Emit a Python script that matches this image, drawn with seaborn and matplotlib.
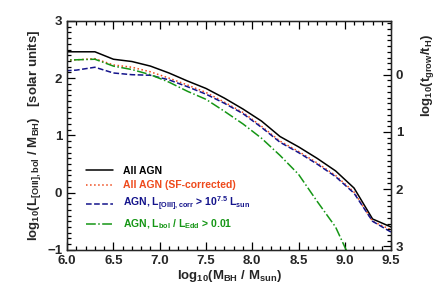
import matplotlib
matplotlib.use("Agg")
import matplotlib.pyplot as plt
import seaborn as sns
import pandas as pd
from matplotlib.ticker import MultipleLocator

# log10(M_BH / M_sun) bin centres
mass = [5.9, 6.1, 6.3, 6.5, 6.7, 6.9, 7.1, 7.3, 7.5, 7.7, 7.9,
        8.1, 8.3, 8.5, 8.7, 8.9, 9.1, 9.3, 9.5]

all_agn = [2.46, 2.46, 2.46, 2.33, 2.29, 2.21, 2.09, 1.95, 1.82, 1.65, 1.46,
           1.25, 0.98, 0.80, 0.60, 0.38, 0.08, -0.46, -0.60]
all_agn_sf = [2.31, 2.32, 2.34, 2.23, 2.19, 2.11, 2.00, 1.88, 1.75, 1.58, 1.40,
              1.16, 0.90, 0.72, 0.52, 0.30, 0.01, -0.50, -0.65]
agn_loiii = [2.12, 2.14, 2.19, 2.09, 2.06, 2.05, 1.97, 1.85, 1.72, 1.56, 1.38,
             1.14, 0.88, 0.70, 0.50, 0.28, -0.01, -0.50, -0.69]
agn_edd = [2.31, 2.32, 2.33, 2.21, 2.15, 2.06, 1.93, 1.77, 1.63, 1.42, 1.20,
           0.95, 0.65, 0.32, -0.15, -0.60, -1.30, None, None]

labels = ["All AGN",
          "All AGN (SF-corrected)",
          r"AGN, L$_{\rm [OIII],corr}$ > 10$^{7.5}$ L$_{\rm sun}$",
          r"AGN, L$_{\rm bol}$ / L$_{\rm Edd}$ > 0.01"]
colors = ["black", "#ee4a1c", "#14148c", "#159615"]
styles = ["-", ":", "--", "-."]

# right axis: log10(t_grow / t_H) = offset - left value
offset = 2.06

sns.set_style("ticks")
plt.rcParams["font.family"] = ["Liberation Sans", "DejaVu Sans"]
plt.rcParams["font.weight"] = "bold"
plt.rcParams["mathtext.fontset"] = "custom"
plt.rcParams["mathtext.rm"] = "Liberation Sans:bold"
plt.rcParams["mathtext.it"] = "Liberation Sans:bold"
plt.rcParams["mathtext.bf"] = "Liberation Sans:bold"

fig = plt.figure(figsize=(4.36, 2.94), dpi=100)
ax = fig.add_axes([0.154, 0.150, 0.743, 0.779])

series = [all_agn, all_agn_sf, agn_loiii, agn_edd]
for vals, lab, col, ls in zip(series, labels, colors, styles):
    df = pd.DataFrame({"m": mass, "v": vals}).dropna()
    sns.lineplot(data=df, x="m", y="v", ax=ax, color=col, linestyle=ls,
                 linewidth=1.1, label=lab)

ax.set_xlim(6.0, 9.5)
ax.set_ylim(-1, 3)
ax.xaxis.set_major_locator(MultipleLocator(0.5))
ax.xaxis.set_minor_locator(MultipleLocator(0.1))
ax.yaxis.set_major_locator(MultipleLocator(1))
ax.yaxis.set_minor_locator(MultipleLocator(0.1))
ax.xaxis.set_major_formatter(plt.FormatStrFormatter("%.1f"))
ax.tick_params(which="both", direction="in", top=True, right=False,
               labelsize=9.5, width=0.9, color="black")
ax.tick_params(which="major", length=6)
ax.tick_params(which="minor", length=3)
ax.set_xlabel(r"log$_{10}$(M$_{\rm BH}$ / M$_{\rm sun}$)", fontsize=9.5,
              fontweight="bold", labelpad=1)
ax.set_ylabel(r"log$_{10}$(L$_{\rm [OIII],bol}$ / M$_{\rm BH}$)   [solar units]",
              fontsize=9.5, fontweight="bold", labelpad=3)
for s in ax.spines.values():
    s.set_linewidth(1.0)
    s.set_color("black")

leg = ax.legend(loc="lower left", bbox_to_anchor=(0.03, 0.04), frameon=False,
                fontsize=7.5, handlelength=2.6, labelspacing=0.45,
                handletextpad=0.9)
for txt, col in zip(leg.get_texts(), colors):
    txt.set_color(col)
    txt.set_fontweight("bold")

ax2 = ax.twinx()
ax2.set_ylim(offset + 1, offset - 3)
ax2.yaxis.set_major_locator(MultipleLocator(1))
ax2.yaxis.set_minor_locator(MultipleLocator(0.1))
ax2.tick_params(which="both", direction="in", labelsize=9.5, width=0.9,
                color="black")
ax2.tick_params(which="major", length=6)
ax2.tick_params(which="minor", length=3)
ax2.set_ylabel(r"log$_{10}$(t$_{\rm grow}$/t$_{\rm H}$)", fontsize=9.5,
               fontweight="bold")
ax2.yaxis.set_label_coords(1.085, 0.76)

fig.savefig("out.png", dpi=100)
